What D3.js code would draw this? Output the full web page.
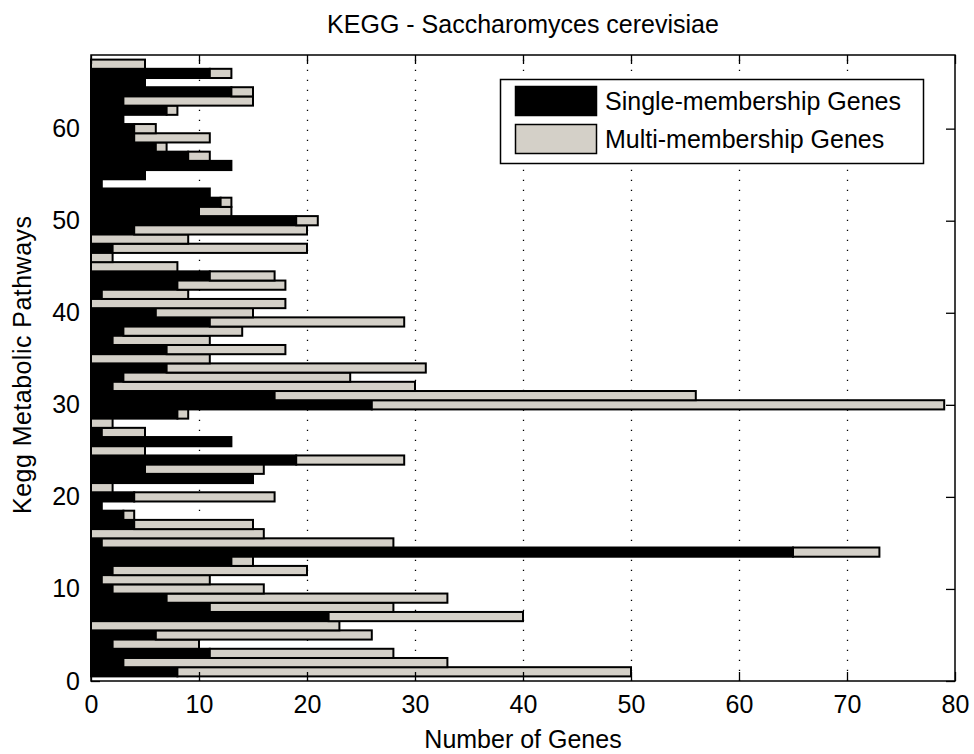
<!DOCTYPE html>
<html>
<head>
<meta charset="utf-8">
<script src="https://cdn.jsdelivr.net/npm/d3@7"></script>
<style>
  html, body { margin: 0; padding: 0; background: #fff; }
  svg text { font-family: "Liberation Sans", Arial, sans-serif; fill: #000; }
</style>
</head>
<body>
<svg id="chart" width="974" height="754"></svg>
<script>
// Pathway index (1..67, bottom to top)
const pathways = d3.range(1, 68);

// Genes belonging to only this pathway
const singleGenes = [
  8, 3, 11, 2, 6, 0, 22, 11, 7, 2,
  1, 2, 13, 65, 1, 0, 4, 3, 1, 4,
  0, 15, 5, 19, 0, 13, 1, 0, 8, 26,
  17, 2, 3, 7, 0, 7, 2, 3, 11, 6,
  0, 1, 8, 11, 0, 0, 2, 0, 4, 19,
  10, 12, 11, 1, 5, 13, 9, 6, 4, 4,
  3, 7, 3, 13, 5, 11, 0
];

// Genes shared with other pathways
const multiGenes = [
  42, 30, 17, 8, 20, 23, 18, 17, 26, 14,
  10, 18, 2, 8, 27, 16, 11, 1, 0, 13,
  2, 0, 11, 10, 5, 0, 4, 2, 1, 53,
  39, 28, 21, 24, 11, 11, 9, 11, 18, 9,
  18, 8, 10, 6, 8, 2, 18, 9, 16, 2,
  3, 1, 0, 0, 0, 0, 2, 1, 7, 2,
  0, 1, 12, 2, 0, 2, 5
];

const seriesNames = ["Single-membership Genes", "Multi-membership Genes"];
const seriesColors = ["#000000", "#d4d0c8"];

const xTicks = [0, 10, 20, 30, 40, 50, 60, 70, 80];
const yTicks = [0, 10, 20, 30, 40, 50, 60];

const titleText = "KEGG - Saccharomyces cerevisiae";
const xLabel = "Number of Genes";
const yLabel = "Kegg Metabolic Pathways";

// ---- layout ----
const plot = { left: 91, right: 955, top: 55, bottom: 681 };
const barWidth = 1.0;
const fontSize = 25;

const svg = d3.select("#chart");

const x = d3.scaleLinear().domain([0, 80]).range([plot.left, plot.right]);
const y = d3.scaleLinear().domain([0, 68]).range([plot.bottom, plot.top]);

// Stack the two series
const rows = pathways.map((p, i) => ({ p, single: singleGenes[i], multi: multiGenes[i] }));
const stacked = d3.stack().keys(["single", "multi"])(rows);

// Dotted vertical grid
svg.append("g")
  .selectAll("line")
  .data(xTicks.filter(t => t > 0 && t < 80))
  .join("line")
  .attr("x1", d => Math.round(x(d)) + 0.5)
  .attr("x2", d => Math.round(x(d)) + 0.5)
  .attr("y1", plot.bottom)
  .attr("y2", plot.top)
  .attr("stroke", "#000")
  .attr("stroke-width", 1.3)
  .attr("stroke-dasharray", "1.3,8.7");

// Bars
const barGroup = svg.append("g");
stacked.forEach((layer, k) => {
  barGroup.append("g")
    .selectAll("rect")
    .data(layer.filter(d => d[1] - d[0] > 0))
    .join("rect")
    .attr("x", d => x(d[0]))
    .attr("width", d => x(d[1]) - x(d[0]))
    .attr("y", d => y(d.data.p + barWidth / 2))
    .attr("height", d => y(d.data.p - barWidth / 2) - y(d.data.p + barWidth / 2))
    .attr("fill", seriesColors[k])
    .attr("stroke", "#000")
    .attr("stroke-width", 2);
});

// Axes with inward ticks on all four sides
const tickLen = 9;
const axisFont = g => g.selectAll("text")
  .style("font-size", fontSize + "px")
  .style("font-family", "'Liberation Sans', Arial, sans-serif")
  .attr("fill", "#000");
const axisStroke = g => {
  g.select(".domain").remove();
  g.selectAll(".tick line").attr("stroke", "#000").attr("stroke-width", 1.3);
};

svg.append("g")
  .attr("transform", `translate(0,${plot.bottom})`)
  .call(d3.axisBottom(x).tickValues(xTicks).tickSizeInner(-tickLen).tickSizeOuter(0).tickPadding(14).tickFormat(d3.format("d")))
  .call(axisStroke).call(axisFont);

svg.append("g")
  .attr("transform", `translate(0,${plot.top})`)
  .call(d3.axisTop(x).tickValues(xTicks).tickSizeInner(-tickLen).tickSizeOuter(0).tickFormat(""))
  .call(axisStroke);

svg.append("g")
  .attr("transform", `translate(${plot.left},0)`)
  .call(d3.axisLeft(y).tickValues(yTicks).tickSizeInner(-tickLen).tickSizeOuter(0).tickPadding(11).tickFormat(d3.format("d")))
  .call(axisStroke).call(axisFont);

svg.append("g")
  .attr("transform", `translate(${plot.right},0)`)
  .call(d3.axisRight(y).tickValues(yTicks).tickSizeInner(-tickLen).tickSizeOuter(0).tickFormat(""))
  .call(axisStroke);

// Axes box
svg.append("rect")
  .attr("x", plot.left).attr("y", plot.top)
  .attr("width", plot.right - plot.left).attr("height", plot.bottom - plot.top)
  .attr("fill", "none").attr("stroke", "#000").attr("stroke-width", 1.5);

// Title and axis labels
svg.append("text")
  .attr("x", (plot.left + plot.right) / 2).attr("y", 33)
  .attr("text-anchor", "middle")
  .style("font-size", fontSize + "px")
  .text(titleText);

svg.append("text")
  .attr("x", (plot.left + plot.right) / 2).attr("y", 748)
  .attr("text-anchor", "middle")
  .style("font-size", fontSize + "px")
  .text(xLabel);

svg.append("text")
  .attr("transform", `translate(31,${(plot.top + plot.bottom) / 2 - 3}) rotate(-90)`)
  .attr("text-anchor", "middle")
  .attr("textLength", 298)
  .attr("lengthAdjust", "spacing")
  .style("font-size", fontSize + "px")
  .text(yLabel);

// Legend
const legend = svg.append("g");
legend.append("rect")
  .attr("x", 500.5).attr("y", 79.5).attr("width", 423).attr("height", 84)
  .attr("fill", "#fff").attr("stroke", "#000").attr("stroke-width", 1.5);

const legendRows = [101, 139];
seriesNames.forEach((name, k) => {
  legend.append("rect")
    .attr("x", 515.5).attr("y", legendRows[k] - 14.5)
    .attr("width", 81).attr("height", 29)
    .attr("fill", seriesColors[k]).attr("stroke", "#000").attr("stroke-width", 1.5);
  legend.append("text")
    .attr("x", 605).attr("y", legendRows[k] + 9)
    .style("font-size", fontSize + "px")
    .text(name);
});
</script>
</body>
</html>
